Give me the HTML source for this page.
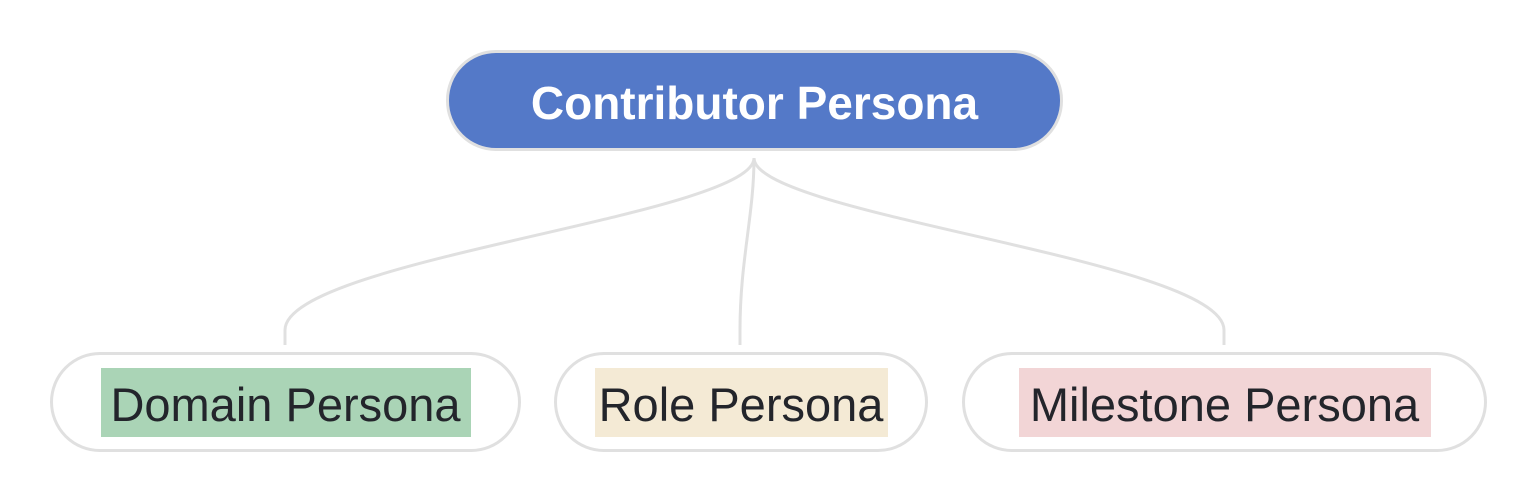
<!DOCTYPE html>
<html><head><meta charset="utf-8"><style>
html,body{margin:0;padding:0;background:#fff;}
body{width:1534px;height:500px;position:relative;overflow:hidden;font-family:"Liberation Sans",sans-serif;}
.node{position:absolute;box-sizing:border-box;border:3px solid #e0e0e0;border-radius:50px;display:flex;align-items:center;justify-content:center;}
.top{left:446px;top:50px;width:617px;height:101px;background:#5479c8;color:#fff;font-weight:bold;font-size:46px;padding-top:4px;}
.b{top:352px;height:100px;background:#fff;color:#23252b;font-size:47px;}
.hl{padding:10px 0;line-height:49px;white-space:nowrap;padding-top:12px;padding-bottom:8px;}
</style></head><body>
<svg width="1534" height="500" style="position:absolute;left:0;top:0">
<g fill="none" stroke="#e0e0e0" stroke-width="3">
<path d="M754,158 C754,215 285,260 285,330 L285,345"/>
<path d="M754,158 C754,215 740,260 740,330 L740,345"/>
<path d="M754,158 C754,215 1224,260 1224,330 L1224,345"/>
</g></svg>
<div class="node top">Contributor Persona</div>
<div class="node b" style="left:50px;width:471px;"><span class="hl" style="background:#aad4b6;width:370px;text-align:center;">Domain Persona</span></div>
<div class="node b" style="left:554px;width:374px;"><span class="hl" style="background:#f4ead5;width:293px;text-align:center;">Role Persona</span></div>
<div class="node b" style="left:962px;width:525px;"><span class="hl" style="background:#f2d5d6;width:412px;text-align:center;">Milestone Persona</span></div>
</body></html>
